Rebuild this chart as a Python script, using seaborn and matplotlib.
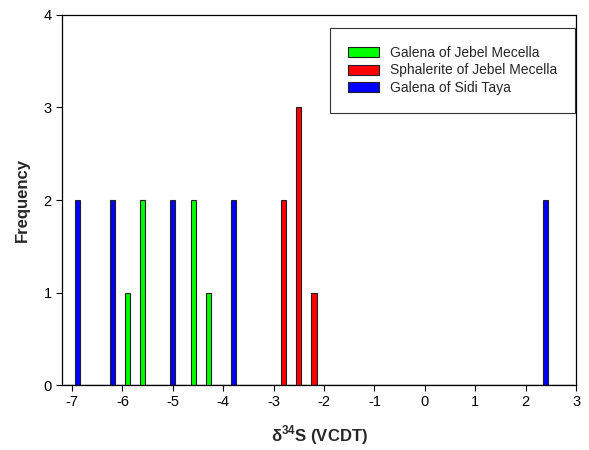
import numpy as np
import pandas as pd
import matplotlib.pyplot as plt
import seaborn as sns

# d34S values (VCDT) and their frequencies
galena_jm_vals = [-5.9, -5.6, -4.6, -4.3]
galena_jm_counts = [1, 2, 2, 1]
sphal_jm_vals = [-2.8, -2.5, -2.2]
sphal_jm_counts = [2, 3, 1]
galena_st_vals = [-6.9, -6.2, -5.0, -3.8, 2.4]
galena_st_counts = [2, 2, 2, 2, 2]

groups = ["Galena of Jebel Mecella", "Sphalerite of Jebel Mecella", "Galena of Sidi Taya"]
colors = ["#00ff00", "#ff0000", "#0000ff"]

# one row per sample
data = pd.concat([
    pd.DataFrame({"d34S": np.repeat(galena_jm_vals, galena_jm_counts), "group": groups[0]}),
    pd.DataFrame({"d34S": np.repeat(sphal_jm_vals, sphal_jm_counts), "group": groups[1]}),
    pd.DataFrame({"d34S": np.repeat(galena_st_vals, galena_st_counts), "group": groups[2]}),
], ignore_index=True)

sns.set_style("ticks")
plt.rcParams['font.family'] = ['Liberation Sans', 'DejaVu Sans']
plt.rcParams['axes.unicode_minus'] = False
plt.rcParams['mathtext.fontset'] = 'custom'
plt.rcParams['mathtext.rm'] = 'Liberation Sans'
plt.rcParams['mathtext.bf'] = 'Liberation Sans:bold'

fig = plt.figure(figsize=(5.89, 4.5), dpi=100)
ax = fig.add_axes([0.1053, 0.1444, 0.8727, 0.8223])

sns.histplot(data=data, x="d34S", hue="group", hue_order=groups,
             palette=colors, binwidth=0.1, binrange=(-7.25, 2.95), multiple="layer",
             alpha=1, edgecolor="#202020", linewidth=0.8, ax=ax)

ax.set_xlim(-7.2, 3)
ax.set_ylim(0, 4)
ax.set_xticks(range(-7, 4))
ax.set_yticks(range(0, 5))
ax.tick_params(direction="out", length=4, width=0.8, labelsize=10.5, colors="black")
for s in ax.spines.values():
    s.set_visible(True)
    s.set_linewidth(0.9)
    s.set_color("black")

ax.set_xlabel("δ$^{\\mathbf{34}}$S (VCDT)", fontsize=12, fontweight="bold", labelpad=10)
ax.set_ylabel("Frequency", fontsize=12, fontweight="bold", labelpad=10)

sns.move_legend(ax, "upper right", bbox_to_anchor=(0.998, 0.965), title=None,
                frameon=True, fancybox=False, edgecolor="black", fontsize=10,
                handlelength=2.2, handleheight=0.72, handletextpad=0.8,
                borderpad=1.3, borderaxespad=0, labelspacing=0.25)
ax.get_legend().get_frame().set_linewidth(0.8)

plt.savefig("out.png", dpi=100)
